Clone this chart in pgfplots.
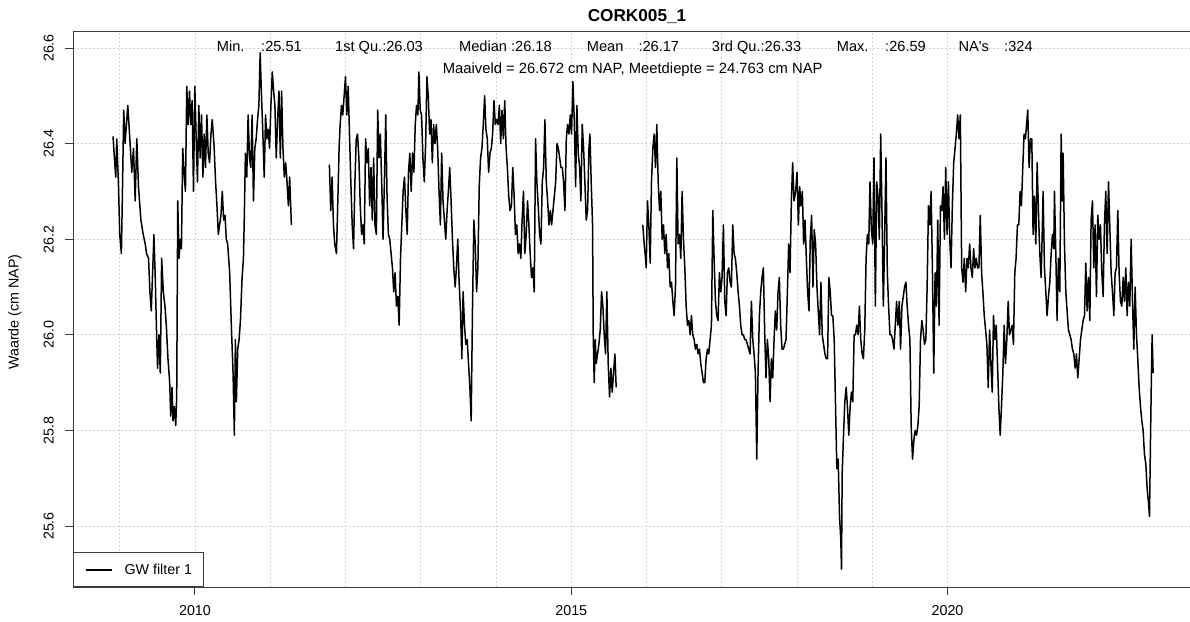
\documentclass[border=0pt]{standalone}
\usepackage{fontspec}
\setmainfont{Liberation Sans}
\newfontfamily\plainsans{Liberation Sans}
\usepackage{pgfplots}
\usepackage{pgfplotstable}
\pgfplotsset{compat=1.18}

\definecolor{gridgray}{RGB}{211,211,211}
\definecolor{boxgray}{RGB}{60,60,60}
\newcommand\basefont{\fontsize{14.3}{17}\selectfont}

% groundwater level, filter 1 (year, cm NAP); nan rows mark missing periods
\pgfplotstableread{
year value
2008.911 26.415
2008.929 26.37
2008.947 26.33
2008.960 26.41
2008.982 26.32
2009.000 26.21
2009.022 26.17
2009.036 26.30
2009.053 26.47
2009.071 26.40
2009.107 26.48
2009.134 26.41
2009.160 26.34
2009.183 26.39
2009.205 26.28
2009.227 26.41
2009.249 26.31
2009.281 26.24
2009.312 26.21
2009.339 26.19
2009.356 26.17
2009.383 26.16
2009.401 26.09
2009.419 26.05
2009.437 26.13
2009.454 26.21
2009.472 26.12
2009.490 26.00
2009.503 25.93
2009.521 26.00
2009.539 25.92
2009.557 26.16
2009.579 26.09
2009.601 26.06
2009.619 26.02
2009.641 25.95
2009.664 25.90
2009.677 25.83
2009.695 25.89
2009.708 25.82
2009.726 25.85
2009.744 25.81
2009.757 25.87
2009.771 26.28
2009.788 26.16
2009.806 26.20
2009.820 26.18
2009.837 26.39
2009.855 26.34
2009.873 26.30
2009.891 26.52
2009.909 26.44
2009.927 26.51
2009.944 26.44
2009.962 26.49
2009.980 26.30
2009.998 26.52
2010.016 26.41
2010.033 26.32
2010.051 26.48
2010.069 26.37
2010.087 26.46
2010.105 26.33
2010.122 26.42
2010.140 26.35
2010.158 26.46
2010.176 26.38
2010.194 26.36
2010.212 26.42
2010.229 26.45
2010.252 26.40
2010.274 26.32
2010.292 26.27
2010.310 26.21
2010.327 26.23
2010.345 26.25
2010.363 26.30
2010.381 26.24
2010.399 26.25
2010.416 26.20
2010.434 26.19
2010.461 26.13
2010.483 26.02
2010.506 25.92
2010.523 25.79
2010.537 25.99
2010.550 25.86
2010.568 25.97
2010.586 25.99
2010.604 26.03
2010.626 26.12
2010.644 26.16
2010.657 26.26
2010.670 26.38
2010.688 26.33
2010.706 26.46
2010.724 26.37
2010.742 26.35
2010.759 26.46
2010.777 26.28
2010.795 26.39
2010.813 26.41
2010.831 26.45
2010.849 26.48
2010.866 26.59
2010.884 26.50
2010.902 26.42
2010.920 26.33
2010.938 26.46
2010.955 26.41
2010.973 26.43
2010.991 26.39
2011.009 26.48
2011.027 26.55
2011.045 26.51
2011.062 26.48
2011.080 26.37
2011.098 26.45
2011.116 26.51
2011.134 26.37
2011.151 26.51
2011.169 26.39
2011.187 26.33
2011.205 26.36
2011.223 26.32
2011.241 26.27
2011.258 26.33
2011.281 26.23
nan nan
2011.786 26.356
2011.804 26.26
2011.822 26.33
2011.840 26.23
2011.857 26.19
2011.880 26.17
2011.898 26.28
2011.915 26.39
2011.929 26.44
2011.947 26.48
2011.964 26.46
2011.982 26.50
2012.000 26.54
2012.018 26.46
2012.036 26.52
2012.053 26.42
2012.071 26.32
2012.089 26.23
2012.107 26.18
2012.125 26.32
2012.143 26.41
2012.160 26.42
2012.178 26.37
2012.196 26.27
2012.214 26.21
2012.232 26.23
2012.249 26.19
2012.267 26.41
2012.285 26.36
2012.303 26.39
2012.321 26.27
2012.339 26.35
2012.356 26.24
2012.374 26.37
2012.392 26.23
2012.410 26.21
2012.428 26.47
2012.445 26.37
2012.463 26.42
2012.481 26.32
2012.499 26.20
2012.517 26.32
2012.535 26.46
2012.552 26.29
2012.570 26.21
2012.588 26.20
2012.606 26.17
2012.624 26.14
2012.641 26.09
2012.659 26.13
2012.677 26.06
2012.695 26.08
2012.713 26.02
2012.731 26.16
2012.748 26.23
2012.766 26.30
2012.784 26.33
2012.802 26.26
2012.820 26.21
2012.837 26.34
2012.855 26.38
2012.873 26.30
2012.891 26.38
2012.909 26.34
2012.927 26.44
2012.944 26.48
2012.962 26.46
2012.975 26.55
2012.993 26.47
2013.011 26.46
2013.029 26.37
2013.047 26.32
2013.065 26.40
2013.082 26.54
2013.100 26.50
2013.118 26.42
2013.136 26.45
2013.154 26.36
2013.171 26.44
2013.189 26.40
2013.207 26.44
2013.225 26.39
2013.243 26.30
2013.261 26.23
2013.278 26.38
2013.296 26.28
2013.314 26.24
2013.332 26.20
2013.350 26.26
2013.367 26.30
2013.385 26.35
2013.403 26.28
2013.421 26.20
2013.439 26.14
2013.457 26.10
2013.474 26.14
2013.492 26.20
2013.510 26.11
2013.528 26.05
2013.546 25.95
2013.563 26.09
2013.581 26.02
2013.599 25.98
2013.617 25.99
2013.635 25.94
2013.653 25.89
2013.670 25.82
2013.688 26.06
2013.706 26.24
2013.724 26.19
2013.742 26.09
2013.759 26.14
2013.777 26.31
2013.795 26.37
2013.813 26.39
2013.831 26.44
2013.849 26.50
2013.866 26.43
2013.884 26.41
2013.902 26.34
2013.920 26.38
2013.938 26.39
2013.955 26.42
2013.973 26.49
2013.991 26.44
2014.009 26.45
2014.027 26.44
2014.045 26.48
2014.062 26.40
2014.080 26.47
2014.098 26.41
2014.116 26.49
2014.134 26.39
2014.151 26.35
2014.169 26.29
2014.187 26.26
2014.205 26.27
2014.223 26.35
2014.241 26.29
2014.258 26.21
2014.276 26.23
2014.294 26.17
2014.312 26.19
2014.330 26.16
2014.347 26.24
2014.365 26.30
2014.383 26.17
2014.401 26.21
2014.419 26.28
2014.437 26.23
2014.454 26.17
2014.472 26.12
2014.490 26.14
2014.508 26.09
2014.526 26.41
2014.543 26.32
2014.561 26.27
2014.579 26.21
2014.597 26.19
2014.615 26.32
2014.633 26.35
2014.650 26.45
2014.668 26.32
2014.686 26.28
2014.704 26.23
2014.722 26.26
2014.739 26.23
2014.757 26.26
2014.775 26.29
2014.793 26.32
2014.811 26.40
2014.829 26.39
2014.863 26.35
2014.881 26.35
2014.898 26.32
2014.916 26.26
2014.934 26.41
2014.951 26.44
2014.969 26.42
2014.987 26.46
2015.004 26.42
2015.022 26.53
2015.040 26.45
2015.058 26.31
2015.075 26.48
2015.093 26.38
2015.111 26.35
2015.128 26.28
2015.146 26.44
2015.164 26.39
2015.181 26.32
2015.199 26.24
2015.217 26.26
2015.235 26.39
2015.248 26.42
2015.265 26.32
2015.283 26.23
2015.292 26.00
2015.305 25.90
2015.319 25.99
2015.332 25.94
2015.350 25.96
2015.367 25.98
2015.385 26.01
2015.403 26.09
2015.420 26.06
2015.438 26.00
2015.456 25.96
2015.473 26.09
2015.491 25.94
2015.509 25.87
2015.527 25.93
2015.544 25.88
2015.562 25.92
2015.580 25.96
2015.597 25.89
nan nan
2015.951 26.23
2015.969 26.19
2015.987 26.16
2015.996 26.14
2016.013 26.28
2016.031 26.23
2016.049 26.15
2016.066 26.32
2016.084 26.39
2016.102 26.42
2016.119 26.35
2016.137 26.44
2016.155 26.32
2016.173 26.26
2016.190 26.30
2016.208 26.20
2016.226 26.23
2016.243 26.17
2016.261 26.21
2016.279 26.14
2016.296 26.17
2016.314 26.10
2016.332 26.11
2016.350 26.07
2016.367 26.04
2016.385 26.10
2016.403 26.37
2016.420 26.19
2016.438 26.21
2016.456 26.16
2016.473 26.30
2016.491 26.20
2016.509 26.14
2016.527 26.06
2016.544 26.02
2016.562 26.03
2016.580 26.00
2016.597 26.04
2016.615 26.00
2016.633 25.99
2016.650 25.97
2016.668 25.98
2016.686 25.96
2016.704 25.97
2016.721 25.94
2016.739 25.92
2016.757 25.90
2016.774 25.90
2016.792 25.95
2016.810 25.97
2016.827 25.96
2016.845 25.99
2016.863 26.02
2016.881 26.26
2016.898 26.16
2016.916 26.07
2016.934 26.04
2016.951 26.03
2016.969 26.13
2016.987 26.09
2017.004 26.12
2017.022 26.23
2017.040 26.07
2017.058 26.04
2017.075 26.13
2017.093 26.14
2017.111 26.11
2017.128 26.10
2017.146 26.23
2017.164 26.17
2017.181 26.16
2017.199 26.13
2017.217 26.09
2017.235 26.06
2017.252 26.02
2017.270 26.00
2017.288 26.00
2017.305 25.99
2017.323 25.99
2017.341 25.98
2017.358 25.97
2017.376 25.96
2017.394 26.07
2017.412 25.99
2017.429 25.96
2017.447 25.92
2017.465 25.74
2017.482 25.92
2017.500 26.04
2017.518 26.09
2017.535 26.12
2017.553 26.14
2017.571 26.00
2017.588 25.91
2017.606 25.99
2017.624 25.95
2017.642 25.86
2017.659 25.95
2017.677 25.91
2017.695 25.99
2017.712 26.05
2017.730 26.01
2017.748 26.09
2017.765 26.12
2017.783 26.02
2017.801 25.97
2017.819 25.97
2017.836 25.98
2017.854 25.99
2017.872 26.09
2017.889 26.19
2017.907 26.13
2017.925 26.28
2017.942 26.36
2017.960 26.28
2017.982 26.30
2018.000 26.34
2018.018 26.23
2018.035 26.31
2018.053 26.27
2018.071 26.30
2018.088 26.19
2018.106 26.24
2018.124 26.16
2018.141 26.09
2018.159 26.05
2018.176 26.20
2018.194 26.25
2018.212 26.10
2018.229 26.22
2018.247 26.19
2018.265 26.10
2018.282 26.05
2018.300 26.00
2018.318 26.11
2018.335 26.00
2018.353 25.98
2018.371 25.96
2018.388 25.95
2018.406 25.95
2018.423 26.12
2018.441 26.09
2018.459 26.04
2018.476 26.04
2018.494 25.99
2018.512 25.85
2018.529 25.72
2018.547 25.74
2018.565 25.62
2018.582 25.57
2018.591 25.51
2018.600 25.71
2018.618 25.79
2018.635 25.86
2018.653 25.89
2018.670 25.85
2018.688 25.79
2018.706 25.85
2018.723 25.88
2018.741 25.86
2018.759 26.00
2018.776 26.00
2018.794 26.02
2018.812 26.00
2018.829 26.06
2018.847 25.99
2018.865 25.96
2018.882 25.95
2018.900 26.01
2018.918 26.16
2018.935 26.21
2018.953 26.19
2018.970 26.32
2018.988 26.22
2019.006 26.19
2019.023 26.37
2019.041 26.06
2019.059 26.32
2019.076 26.29
2019.094 26.20
2019.112 26.42
2019.129 26.26
2019.147 26.06
2019.164 26.20
2019.182 26.37
2019.200 26.13
2019.217 26.06
2019.235 26.00
2019.253 26.00
2019.270 25.99
2019.288 25.97
2019.306 26.02
2019.323 26.07
2019.341 26.02
2019.359 26.07
2019.376 25.97
2019.394 26.06
2019.412 26.08
2019.429 26.10
2019.447 26.11
2019.464 26.06
2019.482 26.02
2019.500 25.99
2019.517 25.81
2019.535 25.74
2019.553 25.78
2019.570 25.80
2019.588 25.79
2019.606 25.81
2019.623 25.85
2019.641 25.99
2019.659 26.03
2019.676 26.01
2019.694 25.98
2019.712 25.99
2019.729 26.10
2019.747 26.27
2019.764 26.23
2019.782 26.30
2019.800 26.13
2019.817 25.92
2019.835 26.13
2019.853 26.06
2019.870 26.24
2019.888 26.02
2019.906 26.27
2019.923 26.26
2019.941 26.31
2019.959 26.20
2019.976 26.35
2019.994 26.21
2020.012 26.32
2020.029 26.20
2020.047 26.14
2020.064 26.27
2020.082 26.36
2020.100 26.39
2020.117 26.42
2020.135 26.46
2020.153 26.41
2020.170 26.46
2020.188 26.14
2020.206 26.11
2020.223 26.16
2020.241 26.09
2020.259 26.16
2020.276 26.14
2020.294 26.19
2020.311 26.14
2020.329 26.12
2020.347 26.18
2020.364 26.14
2020.382 26.16
2020.400 26.14
2020.417 26.14
2020.435 26.25
2020.453 26.13
2020.470 26.09
2020.488 26.04
2020.506 26.01
2020.523 25.98
2020.541 25.89
2020.559 26.01
2020.576 25.94
2020.594 25.88
2020.611 26.04
2020.629 25.99
2020.647 26.02
2020.664 25.94
2020.682 25.85
2020.700 25.79
2020.717 25.85
2020.735 25.92
2020.753 26.02
2020.770 25.94
2020.788 25.99
2020.806 26.07
2020.823 26.00
2020.841 26.01
2020.859 26.02
2020.876 25.98
2020.894 26.13
2020.911 26.16
2020.929 26.23
2020.947 26.23
2020.964 26.30
2020.982 26.27
2021.000 26.35
2021.017 26.42
2021.035 26.41
2021.066 26.47
2021.084 26.35
2021.102 26.41
2021.120 26.41
2021.137 26.21
2021.155 26.29
2021.173 26.19
2021.191 26.36
2021.208 26.26
2021.226 26.17
2021.244 26.12
2021.261 26.23
2021.270 26.30
2021.288 26.14
2021.306 26.09
2021.323 26.04
2021.341 26.08
2021.359 26.11
2021.377 26.17
2021.394 26.21
2021.412 26.18
2021.421 26.30
2021.439 26.17
2021.456 26.03
2021.474 26.16
2021.492 26.09
2021.510 26.42
2021.527 26.28
2021.536 26.38
2021.554 26.19
2021.572 26.09
2021.589 26.05
2021.607 26.01
2021.625 26.00
2021.642 25.99
2021.660 25.97
2021.678 25.96
2021.696 25.93
2021.713 25.96
2021.731 25.91
2021.749 25.95
2021.767 25.99
2021.784 26.01
2021.802 26.03
2021.820 26.04
2021.837 26.15
2021.855 26.05
2021.873 26.12
2021.891 26.03
2021.908 26.24
2021.926 26.28
2021.944 26.14
2021.961 26.23
2021.979 26.08
2021.997 26.25
2022.015 26.20
2022.032 26.23
2022.050 26.13
2022.068 26.08
2022.085 26.23
2022.103 26.30
2022.121 26.17
2022.139 26.32
2022.156 26.23
2022.174 26.13
2022.192 26.09
2022.210 26.04
2022.227 26.13
2022.245 26.14
2022.263 26.26
2022.280 26.13
2022.298 26.07
2022.316 26.06
2022.334 26.12
2022.351 26.07
2022.369 26.14
2022.387 26.04
2022.404 26.11
2022.422 26.06
2022.440 26.20
2022.458 26.07
2022.475 25.97
2022.493 26.10
2022.511 26.00
2022.528 25.95
2022.546 25.89
2022.564 25.85
2022.582 25.82
2022.599 25.80
2022.617 25.75
2022.635 25.73
2022.652 25.68
2022.670 25.65
2022.684 25.62
2022.697 25.78
2022.710 25.92
2022.719 26.00
2022.732 25.92
}\gwdata

\begin{document}
\begin{tikzpicture}
\begin{axis}[
  at={(73pt,34pt)}, anchor=south west,
  scale only axis, width=1120pt, height=555pt,
  xmin=2008.379, xmax=2023.262,
  ymin=25.4724, ymax=26.6335,
  unbounded coords=jump,
  axis line style={boxgray, line width=1pt},
  xtick={2010,2015,2020},
  xticklabels={2010,2015,2020},
  extra x ticks={2009,2011,2012,2013,2014,2016,2017,2018,2019},
  extra x tick labels={},
  extra x tick style={major tick length=0pt, grid=major},
  ytick={25.6,25.8,26.0,26.2,26.4,26.6},
  yticklabels={25.6,25.8,26.0,26.2,26.4,26.6},
  grid=major,
  major grid style={gridgray, dash pattern=on 2pt off 2pt, line width=0.9pt},
  tick align=outside,
  xtick pos=bottom, ytick pos=left,
  major tick length=8pt,
  tick style={boxgray, line width=1pt},
  ticklabel style={font=\basefont},
  xticklabel style={anchor=north, inner sep=0pt},
  xticklabel shift=10pt,
  yticklabel style={rotate=90, anchor=south, inner sep=0pt},
  yticklabel shift=11pt,
  legend style={at={(0,0)}, anchor=south west, draw=boxgray, line width=1pt,
    fill=white, inner xsep=11pt, inner ysep=11pt, font=\basefont,
    nodes={inner sep=0pt}, column sep=12pt},
  legend cell align=left,
  legend image code/.code={\draw[#1, line width=2pt] (0pt,0pt) -- (26pt,0pt);},
]
\addplot[black, line width=1.5pt, line join=round] table[x=year, y=value] {\gwdata};
\addlegendentry{GW filter 1}
\end{axis}

\node[font=\fontsize{17.2}{20}\selectfont\bfseries] at (637pt,604.5pt) {CORK005\_1};
\node[rotate=90, font=\basefont] at (15pt,309pt) {Waarde (cm NAP)};

\begin{scope}[every node/.style={anchor=base west, inner sep=0pt, font=\fontsize{14.6}{17}\selectfont}]
  \node at (216.7pt,569.3pt) {Min.};      \node at (261pt,569.3pt)   {:25.51};
  \node at (335pt,569.3pt)   {1st Qu.:26.03};
  \node at (459pt,569.3pt)   {Median :26.18};
  \node at (586.7pt,569.3pt) {Mean};      \node at (638.3pt,569.3pt) {:26.17};
  \node at (711.7pt,569.3pt) {3rd Qu.:26.33};
  \node at (836.7pt,569.3pt) {Max.};      \node at (885pt,569.3pt)   {:26.59};
  \node at (958.3pt,569.3pt) {\plainsans NA's}; \node at (1004pt,569.3pt) {:324};
\end{scope}
\node[anchor=base, inner sep=0pt, font=\fontsize{14.8}{17}\selectfont] at (632.7pt,547pt)
  {Maaiveld = 26.672 cm NAP, Meetdiepte = 24.763 cm NAP};

\pgfresetboundingbox
\path[use as bounding box] (0pt,0pt) rectangle (1190pt,621pt);
\end{tikzpicture}
\end{document}
